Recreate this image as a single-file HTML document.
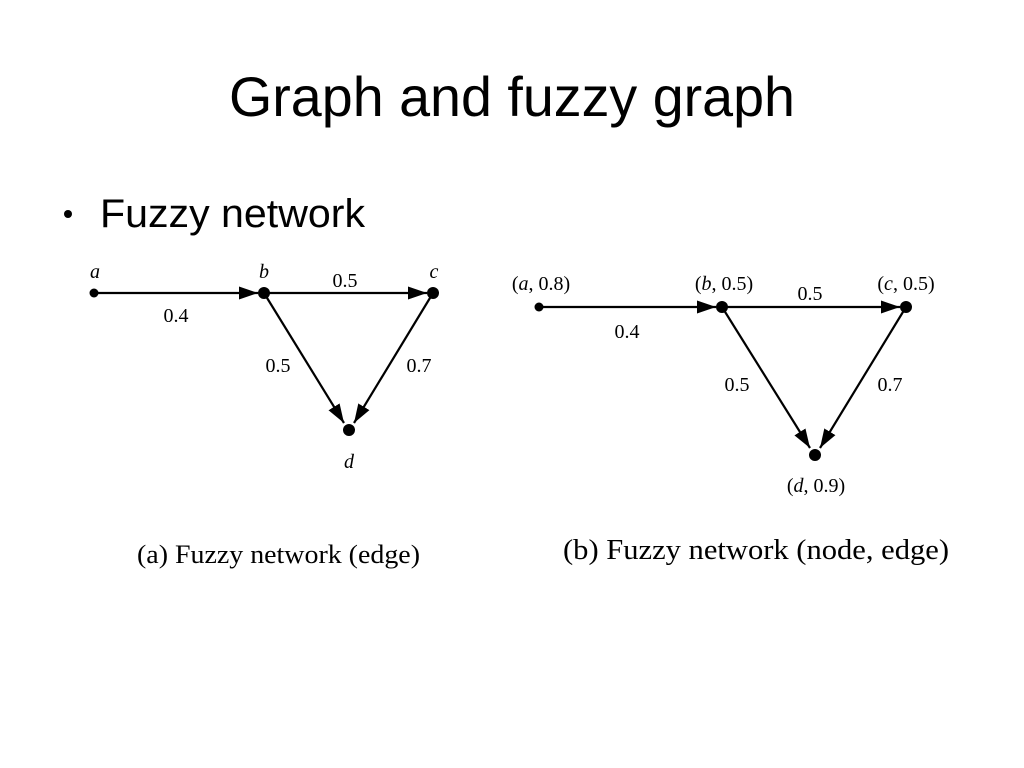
<!DOCTYPE html>
<html><head><meta charset="utf-8"><style>html,body{margin:0;padding:0;background:#fff;}svg{display:block}</style></head>
<body>
<svg width="1024" height="768" viewBox="0 0 1024 768" xmlns="http://www.w3.org/2000/svg">
<defs>
<marker id="ar" markerUnits="userSpaceOnUse" markerWidth="20" markerHeight="14" refX="19" refY="7" orient="auto">
<path d="M0,0.5 L19,7 L0,13.5 z" fill="#000"/>
</marker>
</defs>
<text x="229" y="116" font-family="Liberation Sans, sans-serif" font-size="56" textLength="566" lengthAdjust="spacingAndGlyphs">Graph and fuzzy graph</text>
<circle cx="68" cy="214" r="4" fill="#000"/>
<text x="100" y="227" font-family="Liberation Sans, sans-serif" font-size="40" textLength="265" lengthAdjust="spacingAndGlyphs">Fuzzy network</text>

<g stroke="#000" stroke-width="2.2" fill="none">
<line x1="94" y1="293" x2="258" y2="293" marker-end="url(#ar)"/>
<line x1="264" y1="293" x2="427" y2="293" marker-end="url(#ar)"/>
<line x1="264" y1="293" x2="344" y2="423" marker-end="url(#ar)"/>
<line x1="433" y1="293" x2="354" y2="423" marker-end="url(#ar)"/>
<line x1="539" y1="307" x2="716" y2="307" marker-end="url(#ar)"/>
<line x1="722" y1="307" x2="900" y2="307" marker-end="url(#ar)"/>
<line x1="722" y1="307" x2="810" y2="448" marker-end="url(#ar)"/>
<line x1="906" y1="307" x2="820" y2="448" marker-end="url(#ar)"/>
</g>
<g fill="#000">
<circle cx="94" cy="293" r="4.5"/><circle cx="264" cy="293" r="6"/><circle cx="433" cy="293" r="6"/><circle cx="349" cy="430" r="6"/>
<circle cx="539" cy="307" r="4.5"/><circle cx="722" cy="307" r="6"/><circle cx="906" cy="307" r="6"/><circle cx="815" cy="455" r="6"/>
</g>
<g font-family="Liberation Serif, serif" font-size="20" fill="#000">
<text x="95" y="278" font-style="italic" text-anchor="middle">a</text>
<text x="264" y="278" font-style="italic" text-anchor="middle">b</text>
<text x="434" y="278" font-style="italic" text-anchor="middle">c</text>
<text x="349" y="468" font-style="italic" text-anchor="middle">d</text>
<text x="176" y="322" text-anchor="middle">0.4</text>
<text x="345" y="287" text-anchor="middle">0.5</text>
<text x="278" y="372" text-anchor="middle">0.5</text>
<text x="419" y="372" text-anchor="middle">0.7</text>

<text x="541" y="290" text-anchor="middle">(<tspan font-style="italic">a</tspan>, 0.8)</text>
<text x="724" y="290" text-anchor="middle">(<tspan font-style="italic">b</tspan>, 0.5)</text>
<text x="906" y="290" text-anchor="middle">(<tspan font-style="italic">c</tspan>, 0.5)</text>
<text x="816" y="492" text-anchor="middle">(<tspan font-style="italic">d</tspan>, 0.9)</text>
<text x="627" y="338" text-anchor="middle">0.4</text>
<text x="810" y="300" text-anchor="middle">0.5</text>
<text x="737" y="391" text-anchor="middle">0.5</text>
<text x="890" y="391" text-anchor="middle">0.7</text>
</g>
<text x="137" y="563" font-family="Liberation Serif, serif" font-size="26" textLength="283" lengthAdjust="spacingAndGlyphs">(a) Fuzzy network (edge)</text>
<text x="563" y="559" font-family="Liberation Serif, serif" font-size="28" textLength="386" lengthAdjust="spacingAndGlyphs">(b) Fuzzy network (node, edge)</text>
</svg>
</body></html>
